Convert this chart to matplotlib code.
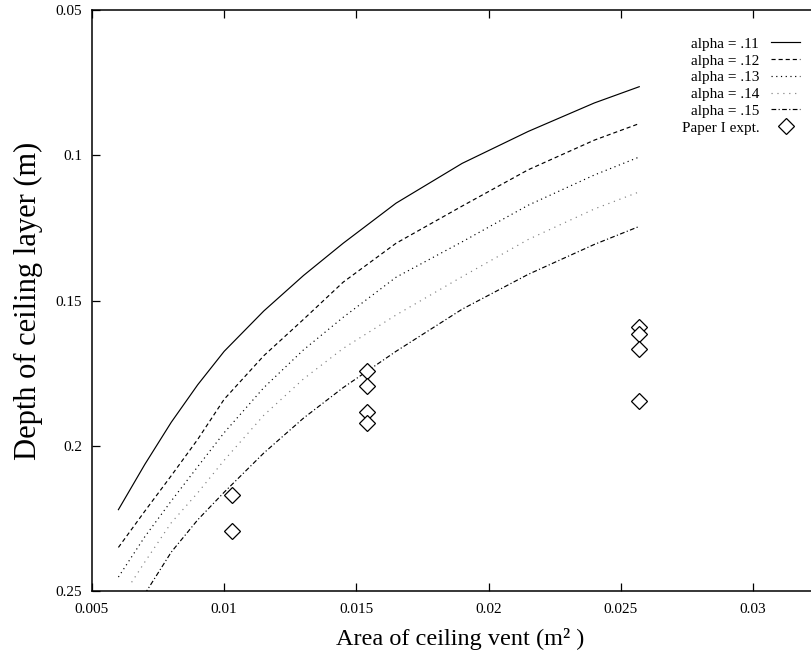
import matplotlib
matplotlib.use("Agg")
import matplotlib.pyplot as plt
from matplotlib.ticker import FormatStrFormatter

plt.rcParams["font.family"] = ["Liberation Serif", "DejaVu Serif"]

# vent area (m^2) where the model curves were read
area = [0.006, 0.007, 0.008, 0.009, 0.010, 0.0115, 0.013, 0.0145,
        0.0165, 0.019, 0.0215, 0.024, 0.0257]

depth_011 = [0.2220, 0.2064, 0.1919, 0.1790, 0.1675, 0.1536, 0.1414, 0.1303,
             0.1165, 0.1028, 0.0918, 0.0820, 0.0764]
depth_012 = [0.2350, 0.2225, 0.2103, 0.1978, 0.1840, 0.1690, 0.1565, 0.1437,
             0.1303, 0.1175, 0.1050, 0.0948, 0.0891]
depth_013 = [0.2452, 0.2313, 0.2190, 0.2072, 0.1955, 0.1800, 0.1670, 0.1558,
             0.1420, 0.1298, 0.1172, 0.1068, 0.1006]

area_014 = [0.0065, 0.007, 0.008, 0.009, 0.010, 0.0115, 0.013, 0.0145,
            0.0165, 0.019, 0.0215, 0.024, 0.0257]
depth_014 = [0.2470, 0.2400, 0.2265, 0.2162, 0.2050, 0.1895, 0.1770, 0.1665,
             0.1550, 0.1418, 0.1290, 0.1185, 0.1126]

area_015 = [0.007, 0.008, 0.009, 0.010, 0.0115, 0.013, 0.0145,
            0.0165, 0.019, 0.0215, 0.024, 0.0257]
depth_015 = [0.2510, 0.2366, 0.2255, 0.2160, 0.2025, 0.1905, 0.1800,
             0.1675, 0.1530, 0.1410, 0.1307, 0.1245]

# Paper I experiments
expt_area = [0.0103, 0.0103, 0.0154, 0.0154, 0.0154, 0.0154,
             0.0257, 0.0257, 0.0257, 0.0257]
expt_depth = [0.2169, 0.2293, 0.1741, 0.1793, 0.1885, 0.1920,
              0.1592, 0.1615, 0.1667, 0.1845]

xticks = [0.005, 0.01, 0.015, 0.02, 0.025, 0.03]
yticks = [0.05, 0.1, 0.15, 0.2, 0.25]

fig = plt.figure(figsize=(8.11, 6.63), dpi=100)
# axes run past the right edge, the original scan is cropped there
ax = fig.add_axes([0.1134, 0.1086, 0.978, 0.8763])

lw = 0.85
ax.plot(area, depth_011, color="black", lw=lw, ls="-", label="alpha = .11")
ax.plot(area, depth_012, color="black", lw=lw, ls=(0, (3.5, 2.5)), label="alpha = .12")
ax.plot(area, depth_013, color="black", lw=lw, ls=(0, (1, 3)), label="alpha = .13")
ax.plot(area_014, depth_014, color="0.5", lw=lw, ls=(0, (1, 4)), label="alpha = .14")
ax.plot(area_015, depth_015, color="black", lw=lw, ls=(0, (4, 2, 1, 2)), label="alpha = .15")
ax.plot(expt_area, expt_depth, ls="none", marker="D", ms=8, mfc="white",
        mec="black", mew=0.9, label="Paper I expt.")

ax.set_xlim(0.005, 0.035)
ax.set_ylim(0.25, 0.05)
ax.set_xticks(xticks)
ax.set_yticks(yticks)
ax.xaxis.set_major_formatter(FormatStrFormatter("%g"))
ax.yaxis.set_major_formatter(FormatStrFormatter("%g"))
ax.tick_params(direction="in", length=5.5, width=0.9, top=True, right=True,
               labelsize=11)
ax.tick_params(axis="x", pad=9)
ax.tick_params(axis="y", pad=7)
for s in ax.spines.values():
    s.set_linewidth(1.1)

ax.set_xlabel("Area of ceiling vent (m² )", fontsize=17.5)
ax.xaxis.set_label_coords(0.464, -0.064)
ax.set_ylabel("Depth of ceiling layer (m)", fontsize=22)
ax.yaxis.set_label_coords(-0.062, 0.5)

ax.legend(loc="upper right", bbox_to_anchor=(0.986, 0.944),
          bbox_transform=fig.transFigure, frameon=False, markerfirst=False,
          fontsize=11, labelspacing=0.2, handlelength=1.85, handletextpad=0.8,
          borderpad=0, borderaxespad=0)

fig.savefig("out.png", dpi=100)
